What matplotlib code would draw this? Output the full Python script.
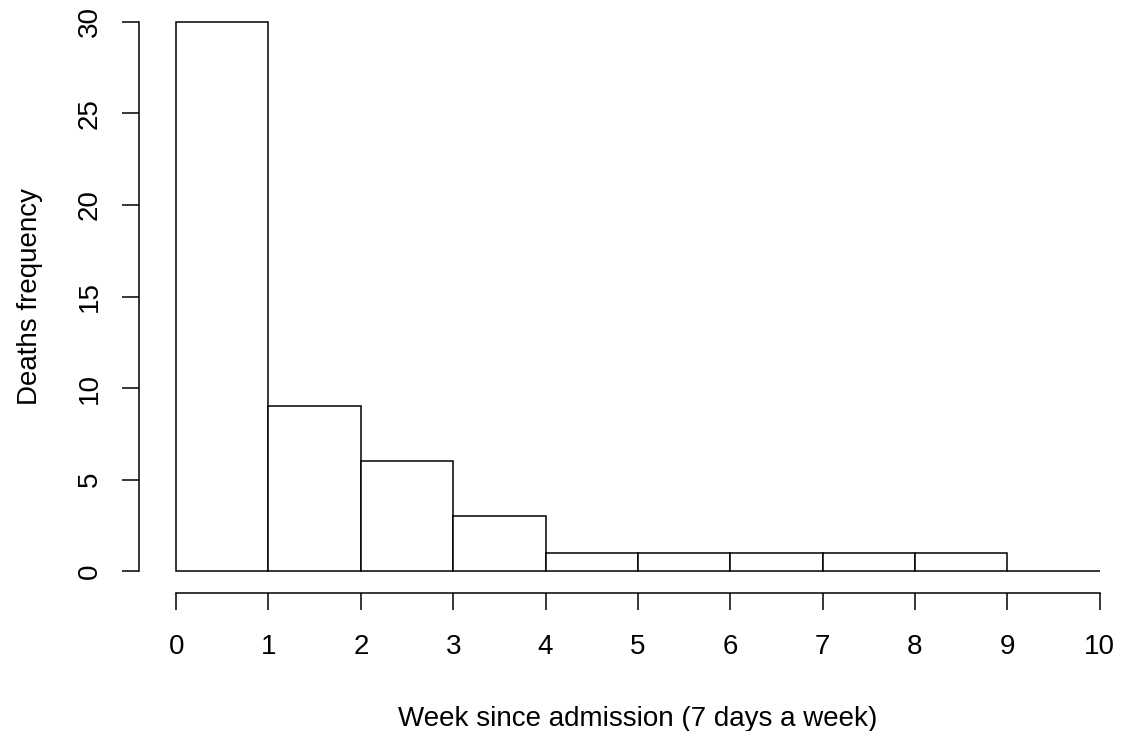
import matplotlib.pyplot as plt

plt.rcParams['font.family'] = ['Liberation Sans', 'DejaVu Sans']

# week bins and death counts
bin_edges = [0, 1, 2, 3, 4, 5, 6, 7, 8, 9, 10]
deaths = [30, 9, 6, 3, 1, 1, 1, 1, 1, 0]
x_ticks = [0, 1, 2, 3, 4, 5, 6, 7, 8, 9, 10]
y_ticks = [0, 5, 10, 15, 20, 25, 30]

W, H = 1121, 731
fig = plt.figure(figsize=(W / 100, H / 100), dpi=100)
fig.patch.set_facecolor('white')

# axes placed like R's usr region (4% padding around data range)
left_px, right_px = 139.2, 1136.5
bottom_px, top_px = 593.0, 0.0
ax = fig.add_axes([left_px / W, 1 - bottom_px / H,
                   (right_px - left_px) / W, (bottom_px - top_px) / H])
ax.set_xlim(-0.4, 10.4)
ax.set_ylim(-1.2, 31.2)
ax.patch.set_alpha(0)

lw = 1.1
widths = [bin_edges[i + 1] - bin_edges[i] for i in range(len(deaths))]
ax.bar(bin_edges[:-1], deaths, width=widths, align='edge',
       facecolor='white', edgecolor='black', linewidth=lw, clip_on=False)

for s in ['top', 'right']:
    ax.spines[s].set_visible(False)
ax.spines['left'].set_bounds(0, 30)
ax.spines['bottom'].set_bounds(0, 10)
ax.spines['left'].set_linewidth(lw)
ax.spines['bottom'].set_linewidth(lw)

fs = 20
ax.set_xticks(x_ticks)
ax.set_yticks(y_ticks)
ax.set_yticklabels([str(v) for v in y_ticks], rotation=90, va='center')
ax.tick_params(axis='both', direction='out', length=12.2, width=lw,
               labelsize=fs, color='black')
ax.tick_params(axis='x', pad=17.5)
ax.tick_params(axis='y', pad=14)

ax.set_xlabel('Week since admission (7 days a week)', fontsize=fs, labelpad=33)
ax.set_ylabel('Deaths frequency', fontsize=fs, labelpad=24)

fig.savefig('out.png', dpi=100)
